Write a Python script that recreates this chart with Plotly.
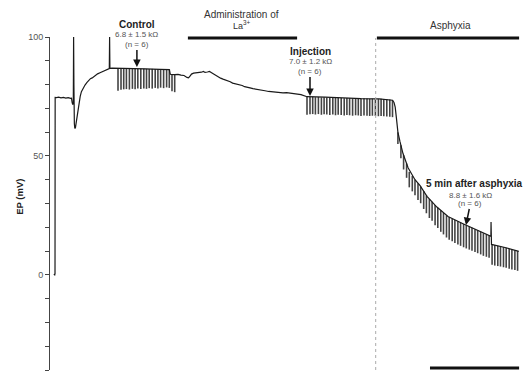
import plotly.graph_objects as go

# ---- data (time in s, EP in mV) ----
base_t = [-4, -1, 0, 0.5, 5, 12, 20, 28, 36, 44, 52, 55, 57, 59, 61, 62, 63, 64.5, 66, 68, 70, 72, 76, 80, 84, 88,
          94, 100, 106, 112, 118, 124, 130, 136, 142, 150, 158, 166, 172, 178, 181, 182, 183, 190, 210, 250, 300,
          350, 381, 384, 386, 399, 410, 420, 430, 440, 445, 450, 455, 462, 470, 480, 488, 495, 500, 508, 515, 522,
          530, 538, 545, 552, 560, 568, 576, 584, 592, 600, 608, 616, 624, 632, 640, 650, 660, 670, 680, 690, 700,
          712, 724, 736, 748, 760, 772, 784, 796, 808, 820, 830, 840, 900, 960, 1020, 1080, 1116, 1125, 1130, 1134,
          1138, 1143, 1150, 1160, 1177, 1200, 1217, 1240, 1273, 1310, 1360, 1407, 1450, 1453, 1453.5, 1454, 1455,
          1500, 1543, 1546]
base_ep = [0.3, 0, 0.5, 74.6, 74.5, 74.7, 74.4, 74.6, 74.3, 74.5, 74.2, 74.3, 72.5, 71.6, 72.0, 100.2, 80, 63.5,
           61.6, 61.8, 63.5, 65.5, 69.5, 72.5, 75, 77, 78.5, 79.8, 80.8, 81.8, 82.5, 82.8, 83.5, 84.0, 84.5, 85.0,
           85.5, 85.9, 86.3, 86.6, 86.7, 100.0, 86.8, 86.9, 86.9, 86.7, 86.6, 86.4, 86.3, 84.5, 84.3, 84.2, 84.3,
           84.0, 83.8, 83.0, 82.8, 83.6, 84.4, 84.8, 84.9, 85.0, 85.2, 85.5, 85.1, 85.3, 85.5, 85.0, 84.3, 83.6,
           83.2, 82.7, 82.3, 82.0, 81.4, 81.2, 80.6, 80.4, 80.0, 79.7, 79.6, 79.1, 79.0, 78.6, 78.3, 78.0, 77.8,
           77.5, 77.4, 77.1, 76.9, 76.8, 76.7, 76.5, 76.6, 76.3, 76.1, 76.0, 75.8, 75.5, 74.9, 74.7, 74.3, 74.1,
           74.0, 73.7, 73.4, 72.5, 70.5, 66, 60, 56, 51, 45, 40, 37.5, 33, 28.5, 24.5, 21.5, 18.8, 16.3, 16.2, 22.2,
           16.0, 12.8, 11.5, 10, 9.9]

ctrl_t = [210, 220, 229, 238, 248, 258, 267, 276, 286, 296, 305, 314, 324, 334, 343, 352, 362, 372, 381, 390, 399]
ctrl_top = [86.9, 86.8, 86.9, 86.8, 86.7, 86.8, 86.7, 86.6, 86.7, 86.6, 86.6, 86.5, 86.6, 86.5, 86.4, 86.5, 86.4,
            86.3, 86.3, 84.3, 84.2]
ctrl_depth = [9.5, 9.0, 8.9, 8.7, 8.8, 8.6, 8.7, 8.3, 8.6, 8.2, 8.4, 8.0, 8.3, 7.9, 8.0, 7.8, 7.9, 7.5, 7.7, 7.1, 7.4]

inj_t = [840, 850, 859, 868, 878, 888, 897, 906, 916, 926, 935, 944, 954, 964, 973, 982, 992, 1002, 1011, 1020,
         1030, 1040, 1049, 1058, 1068, 1078, 1087, 1096, 1106, 1116, 1125]
inj_top = [74.9, 74.8, 74.9, 74.7, 74.8, 74.6, 74.7, 74.6, 74.5, 74.6, 74.4, 74.5, 74.4, 74.3, 74.4, 74.3, 74.2,
           74.3, 74.2, 74.1, 74.2, 74.1, 74.0, 74.1, 74.0, 73.9, 74.0, 73.9, 73.8, 73.7, 73.4]
inj_depth = [7.6, 7.3, 7.3, 7.3, 7.2, 7.3, 7.2, 7.2, 7.3, 7.2, 7.3, 7.2, 7.2, 7.3, 7.2, 7.2, 7.3, 7.2, 7.2, 7.3,
             7.2, 7.2, 7.2, 7.2, 7.2, 7.2, 7.2, 7.2, 7.2, 7.2, 7.1]

asph_t = [1143, 1153, 1162, 1172, 1181, 1191, 1200, 1210, 1219, 1229, 1238, 1248, 1257, 1267, 1276, 1286, 1295,
          1305, 1314, 1324, 1333, 1343, 1352, 1362, 1371, 1381, 1390, 1400, 1409, 1419, 1428, 1438, 1447, 1457,
          1466, 1476, 1485, 1495, 1504, 1514, 1523, 1533, 1542]
asph_top = [60, 54.5, 50.3, 46.8, 43.3, 41.6, 40, 38.5, 37.1, 35.2, 33.4, 31.9, 30.7, 29.4, 28.2, 27.1, 26.0, 25.0,
            24.3, 23.6, 23.1, 22.5, 22.0, 21.4, 20.9, 20.3, 19.8, 19.2, 18.7, 18.1, 17.5, 17.0, 16.5, 12.8, 12.5,
            12.2, 12.0, 11.7, 11.4, 11.0, 10.7, 10.3, 10.0]
asph_depth = [5, 5.5, 6, 6, 6.5, 6.5, 6.5, 7, 7, 7.5, 7.5, 8, 8, 8.5, 8.5, 9, 9, 9.3, 9.5, 9.5, 9.7, 9.7, 9.8, 9.8,
              9.8, 9.7, 9.7, 9.6, 9.6, 9.5, 9.5, 9.4, 9.3, 8.6, 8.6, 8.5, 8.5, 8.5, 8.4, 8.4, 8.4, 8.3, 8.3]

y_major_ticks = [0, 50, 100]
y_minor_ticks = [-40, -30, -20, -10, 10, 20, 30, 40, 60, 70, 80, 90]

# ---- figure ----
FONT = "Liberation Sans, Arial, sans-serif"
fig = go.Figure()

px, py_ = [], []
for ts, tops, deps in ((ctrl_t, ctrl_top, ctrl_depth), (inj_t, inj_top, inj_depth), (asph_t, asph_top, asph_depth)):
    for t, top, d in zip(ts, tops, deps):
        px += [t, t, None]
        py_ += [top, top - d, None]

fig.add_trace(go.Scatter(x=px, y=py_, mode="lines", line=dict(color="#444", width=1.6),
                         hoverinfo="skip", showlegend=False))
fig.add_trace(go.Scatter(x=base_t, y=base_ep, mode="lines", line=dict(color="#1a1a1a", width=1.2),
                         showlegend=False))

PT, PB = 37, 6
PH = 376 - PT - PB


def pyp(p):
    return (376 - PB - p) / PH


def pyv(p):
    # pixel row -> EP value on the y axis
    return 100 - (p - PT) * 140.0 / PH


shapes = [
    dict(type="line", xref="x", yref="paper", x0=1069, x1=1069, y0=0, y1=pyp(38),
         line=dict(color="#aaa", width=1, dash="dot")),
    dict(type="line", xref="x", yref="paper", x0=443, x1=807, y0=pyp(38), y1=pyp(38),
         line=dict(color="#111", width=3)),
    dict(type="line", xref="x", yref="paper", x0=1073, x1=1547, y0=pyp(38), y1=pyp(38),
         line=dict(color="#111", width=3)),
    dict(type="line", xref="x", yref="paper", x0=1250, x1=1547, y0=pyp(368), y1=pyp(368),
         line=dict(color="#111", width=3)),
]

ann = []


def txt(x, p, s, size=10, bold=False, color="#222"):
    ann.append(dict(x=x, y=pyp(p), xref="x", yref="paper", text=("<b>%s</b>" % s) if bold else s,
                    showarrow=False, xanchor="center", yanchor="middle",
                    font=dict(family=FONT, size=size, color=color)))


def arrow_label(x_text, p_text, x_head, p_head, s):
    ann.append(dict(x=x_head, y=pyv(p_head), xref="x", yref="y", ax=x_text, ay=pyv(p_text), axref="x", ayref="y",
                    text=s, showarrow=True, arrowhead=2, arrowsize=1, arrowwidth=1.5, arrowcolor="#111",
                    standoff=0, startstandoff=0,
                    font=dict(family=FONT, size=8, color="#555")))


txt(623, 15, "Administration of", 10, color="#333")
txt(623, 25, "La<sup>3+</sup>", 9, color="#333")
txt(1317, 26, "Asphyxia", 10, color="#333")
txt(273, 25, "Control", 10, True)
txt(273, 35, "6.8 ± 1.5 kΩ", 8, color="#555")
arrow_label(273, 44, 273, 67, "(n = 6)")
txt(850, 52, "Injection", 10, True)
txt(850, 62, "7.0 ± 1.2 kΩ", 8, color="#555")
arrow_label(850, 71, 850, 96, "(n = 6)")
txt(1400, 183, "5 min after asphyxia", 10, True)
txt(1385, 195, "8.8 ± 1.6 kΩ", 8, color="#555")
arrow_label(1385, 203, 1370, 225, "(n = 6)")
ann.append(dict(x=1400, y=pyp(373), xref="x", yref="paper", text="5 min", showarrow=False,
                xanchor="center", yanchor="top", font=dict(family=FONT, size=10, color="#333")))
ann.append(dict(x=0, y=32.8, xref="paper", yref="y", xshift=-30, text="<b>EP (mV)</b>", textangle=-90,
                showarrow=False, xanchor="center", yanchor="middle",
                font=dict(family=FONT, size=9.5, color="#222")))

fig.update_layout(
    width=530, height=376,
    margin=dict(l=50, r=5, t=PT, b=PB, pad=0),
    paper_bgcolor="white", plot_bgcolor="white",
    xaxis=dict(visible=False, range=[-16.7, 1566.7], fixedrange=True),
    yaxis=dict(range=[-40, 100], showgrid=False, zeroline=False, showline=True, linecolor="#444", linewidth=1,
               ticks="outside", ticklen=4, tickcolor="#444", tickwidth=1,
               tickmode="array", tickvals=y_major_ticks, ticktext=[str(v) for v in y_major_ticks],
               minor=dict(tickmode="array", tickvals=y_minor_ticks, ticks="outside", ticklen=4,
                          tickcolor="#444", tickwidth=1, showgrid=False),
               tickfont=dict(family=FONT, size=9, color="#555"), fixedrange=True),
    shapes=shapes, annotations=ann, showlegend=False,
)

fig.write_html("out.html", config={"displayModeBar": False})

# remove the browser's default page margin so the figure sits at the window origin
with open("out.html", encoding="utf-8") as f:
    html = f.read()
html = html.replace("<body>", '<body style="margin:0;padding:0;overflow:hidden">', 1)
with open("out.html", "w", encoding="utf-8") as f:
    f.write(html)
